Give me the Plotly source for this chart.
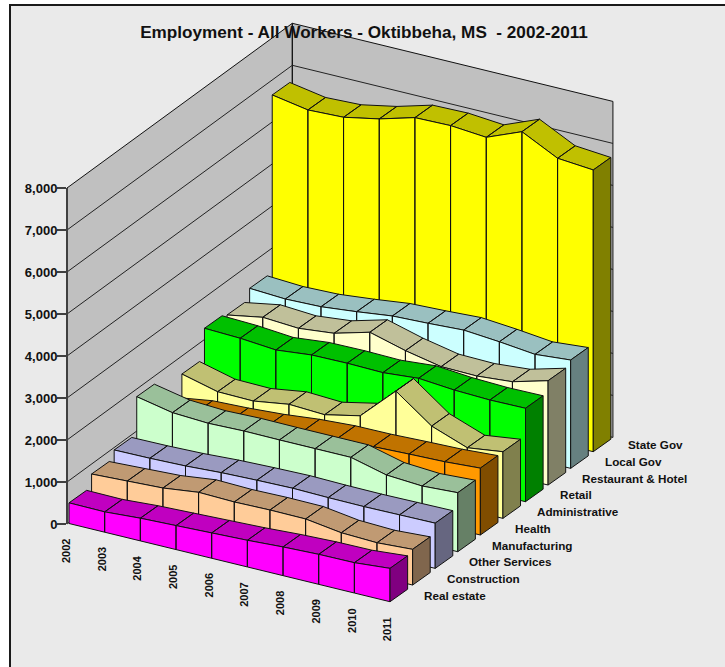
import plotly.graph_objects as go

W, H = 725, 667
TITLE = "Employment - All Workers - Oktibbeha, MS\u00a0 - 2002-2011"
YEARS = ["2002", "2003", "2004", "2005", "2006", "2007", "2008", "2009", "2010", "2011"]
SERIES = ["Real estate", "Construction", "Other Services", "Manufacturing", "Health",
          "Administrative", "Retail", "Restaurant & Hotel", "Local Gov", "State Gov"]

real_estate = [492, 484, 540, 571, 603, 635, 683, 714, 722, 794]
construction = [781, 821, 862, 966, 943, 959, 952, 831, 800, 850]
other_services = [957, 966, 990, 1038, 1064, 1081, 1064, 1057, 1067, 1076]
manufacturing = [1829, 1655, 1610, 1633, 1626, 1626, 1626, 1412, 1357, 1405]
health = [1115, 1245, 1278, 1335, 1423, 1476, 1483, 1514, 1538, 1593]
administrative = [1574, 1360, 1345, 1474, 1433, 1614, 2410, 1783, 1474, 1586]
retail = [2267, 2236, 2164, 2252, 2262, 2245, 2317, 2245, 2214, 2224]
restaurant_hotel = [2186, 2338, 2283, 2371, 2602, 2371, 2198, 2181, 2252, 2483]
local_gov = [2424, 2376, 2400, 2488, 2593, 2626, 2671, 2600, 2507, 2579]
state_gov = [6631, 6481, 6514, 6681, 6919, 6936, 6864, 7205, 6779, 6707]
VALUES = [real_estate, construction, other_services, manufacturing, health,
          administrative, retail, restaurant_hotel, local_gov, state_gov]

FRONT = ["#ff00ff", "#ffcc99", "#ccccff", "#ccffcc", "#ff9900",
         "#ffff99", "#00ff00", "#ffffcc", "#ccffff", "#ffff00"]
TOP = ["#c000c0", "#c09a73", "#9a9ac0", "#9ac09a", "#c07300",
       "#c0c073", "#00c000", "#c0c09a", "#9ac0c0", "#c0c000"]
SIDE = ["#800080", "#80664d", "#666680", "#668066", "#804d00",
        "#80804d", "#008000", "#808066", "#668080", "#808000"]
TICKS = [0, 1000, 2000, 3000, 4000, 5000, 6000, 7000, 8000]

# oblique projection, expressed in axis units (x: year steps, y: employment)
PX_X, PX_Y = 35.67, 0.042
X0, Y0 = 69.0, 524.0
SLOPE = -8.69 / PX_Y        # floor drop per year
SLOT_X = 22.58 / PX_X       # shift per series
SLOT_Y = 16.67 / PX_Y
DEPTH_X = 17.6 / PX_X       # ribbon thickness
DEPTH_Y = 12.5 / PX_Y


def proj(i, s, v, depth=0.0):
    return (i + SLOT_X * s + DEPTH_X * depth,
            12 + v + SLOPE * i + SLOT_Y * s + DEPTH_Y * depth)


def polys(shapes):
    xs, ys = [], []
    for pts in shapes:
        xs += [p[0] for p in pts] + [pts[0][0], None]
        ys += [p[1] for p in pts] + [pts[0][1], None]
    return xs, ys


def add(fig, shapes, fill, lw=1.0, color="#111111"):
    xs, ys = polys(shapes)
    fig.add_trace(go.Scatter(x=xs, y=ys, mode="lines", fill="toself", fillcolor=fill,
                             line=dict(color=color, width=lw), hoverinfo="skip",
                             showlegend=False))


fig = go.Figure()

# walls
WI0, WI1 = -2 / PX_X, 9 - 2.4 / PX_X
WX = 225.3 / PX_X
WY = 164.7 / PX_Y


def wall(i, back, v):
    return (i + WX * back, v + SLOPE * (i - WI0) + WY * back)


left = [wall(WI0, 0, 0), wall(WI0, 0, 8000), wall(WI0, 1, 8000), wall(WI0, 1, 0)]
back = [wall(WI0, 1, 0), wall(WI0, 1, 8000), wall(WI1, 1, 8000), wall(WI1, 1, 0)]
add(fig, [left, back], "#c0c0c0")
gx, gy = [], []
for t in TICKS[1:-1]:
    a, b, c = wall(WI0, 0, t), wall(WI0, 1, t), wall(WI1, 1, t)
    gx += [a[0], b[0], c[0], None]
    gy += [a[1], b[1], c[1], None]
fig.add_trace(go.Scatter(x=gx, y=gy, mode="lines", line=dict(color="#222222", width=1),
                         hoverinfo="skip", showlegend=False))

# series, back to front
for s in range(len(SERIES) - 1, -1, -1):
    vals = VALUES[s]
    n = len(vals)
    tops, fronts = [], []
    for i in range(n - 1):
        tops.append([proj(i, s, vals[i]), proj(i + 1, s, vals[i + 1]),
                     proj(i + 1, s, vals[i + 1], 1), proj(i, s, vals[i], 1)])
        fronts.append([proj(i, s, 0), proj(i, s, vals[i]),
                       proj(i + 1, s, vals[i + 1]), proj(i + 1, s, 0)])
    side = [proj(n - 1, s, 0), proj(n - 1, s, vals[-1]),
            proj(n - 1, s, vals[-1], 1), proj(n - 1, s, 0, 1)]
    add(fig, tops, TOP[s])
    add(fig, fronts, FRONT[s])
    add(fig, [side], SIDE[s])

# value axis: real axis sitting on the left wall edge
fig.add_trace(go.Scatter(x=[WI0, WI0], y=[0, 8000], yaxis="y2", mode="lines",
                         line=dict(color="#404040", width=1), hoverinfo="skip",
                         showlegend=False))

LBL = "Liberation Sans"
ann = []
for i, yr in enumerate(YEARS):
    px, py = proj(i, 0, 0)
    ann.append(dict(x=px - 3.0 / PX_X, y=py - 27.5 / PX_Y, xref="x", yref="y", text=yr,
                    textangle=-90, showarrow=False, xanchor="center", yanchor="middle",
                    font=dict(family=LBL, size=11, color="#111111", weight=700)))
for s, name in enumerate(SERIES):
    px, py = proj(9, s, 0)
    ann.append(dict(x=px + 32.3 / PX_X, y=py + 6.7 / PX_Y, xref="x", yref="y", text=name,
                    showarrow=False, xanchor="left", yanchor="middle",
                    font=dict(family=LBL, size=11.7, color="#111111", weight=700)))

fig.update_layout(
    width=W, height=H, autosize=False,
    margin=dict(l=0, r=0, t=0, b=0, pad=0, autoexpand=False),
    paper_bgcolor="#ffffff", plot_bgcolor="rgba(0,0,0,0)",
    font=dict(family=LBL, color="#111111"),
    showlegend=False,
    title=dict(text=TITLE, x=364 / W, xanchor="center", y=1 - 32 / H, yanchor="middle",
               xref="container", yref="container",
               font=dict(family=LBL, size=17.15, color="#111111", weight=700)),
    xaxis=dict(range=[-X0 / PX_X, (W - X0) / PX_X], visible=False, domain=[0, 1], fixedrange=True,
               automargin=False),
    yaxis=dict(range=[(Y0 - H) / PX_Y, Y0 / PX_Y], visible=False, domain=[0, 1], fixedrange=True,
               automargin=False),
    yaxis2=dict(domain=[(H - Y0) / H, (H - 188) / H], range=[0, 8000], anchor="free",
                position=67 / W, side="left", tickvals=TICKS, tickformat=",", ticks="outside",
                ticklen=9, tickwidth=2, tickcolor="#404040", showline=True, linecolor="#404040",
                linewidth=2, showgrid=False, zeroline=False, fixedrange=True, automargin=False,
                ticklabelstandoff=-3,
                tickfont=dict(family=LBL, size=13, color="#111111", weight=700)),
    annotations=ann,
    shapes=[dict(type="rect", xref="paper", yref="paper", x0=10 / W, x1=1.02, y0=-0.02,
                 y1=1 - 5 / H, fillcolor="#eaeaea", line=dict(color="#1a1a1a", width=2),
                 layer="below")],
)

fig.write_html("out.html", post_script="document.body.style.margin='0';", config={"displayModeBar": False})
